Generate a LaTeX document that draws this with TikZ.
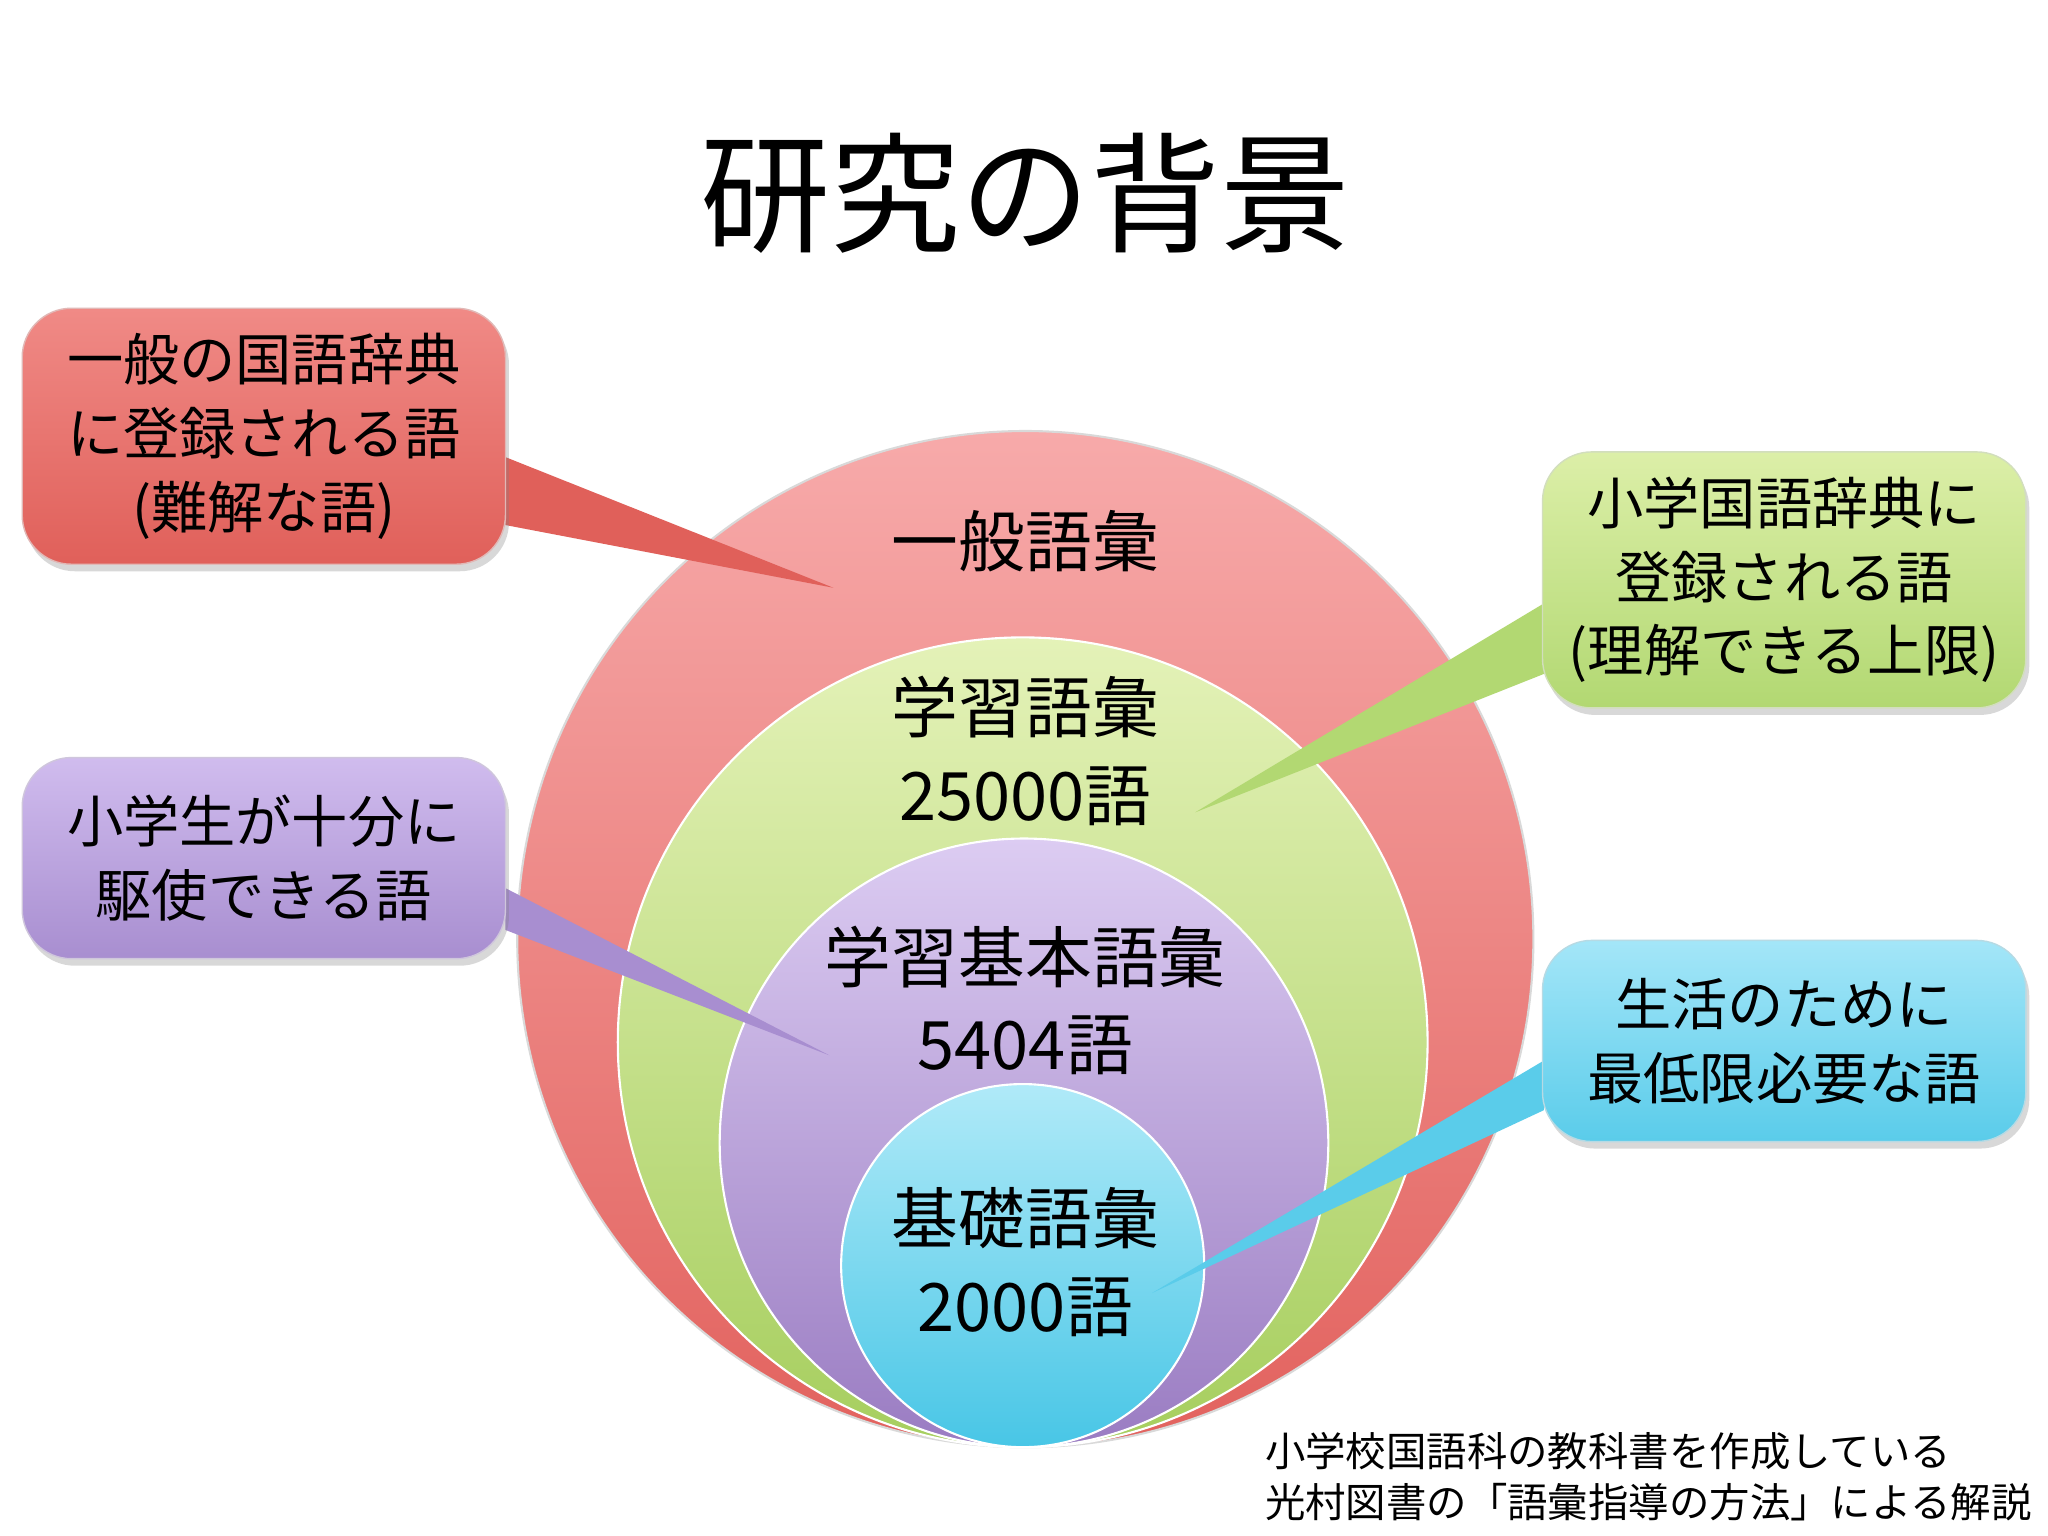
\documentclass[tikz,border=0pt]{standalone}
\usepackage{fontspec}
\setmainfont{Noto Sans CJK JP}
\usetikzlibrary{shadows}
\definecolor{rA}{HTML}{F7AAAA}\definecolor{rB}{HTML}{E2625E}
\definecolor{gA}{HTML}{E4F2B8}\definecolor{gB}{HTML}{A6CE5E}
\definecolor{pA}{HTML}{DCCCF2}\definecolor{pB}{HTML}{9A7CC2}
\definecolor{bA}{HTML}{B0EAF8}\definecolor{bB}{HTML}{48C6E6}
\definecolor{rbA}{HTML}{F08A86}\definecolor{rbB}{HTML}{E0605A}
\definecolor{gbA}{HTML}{DCEFA8}\definecolor{gbB}{HTML}{B2D872}
\definecolor{pbA}{HTML}{D0BCEE}\definecolor{pbB}{HTML}{A88ED0}
\definecolor{bbA}{HTML}{A4E6F8}\definecolor{bbB}{HTML}{5ACCEA}
\tikzset{
 callout/.style={rounded corners=14pt, minimum width=370*0.01306cm, align=center, font=\fontsize{16}{21}\selectfont, drop shadow={shadow xshift=1pt,shadow yshift=-2pt,opacity=0.3}},
 circlab/.style={align=center, font=\fontsize{19}{25}\selectfont},
}
\begin{document}
\begin{tikzpicture}[x=0.01306cm,y=-0.01306cm]
\useasboundingbox[fill=white] (0,0) rectangle (1568,1176);
\node (title) at (785,148) {\fontsize{37}{40}\selectfont 研究の背景};
% circles
\shade[top color=rA,bottom color=rB,draw=white!85!black,line width=0.6pt] (785,719) circle (389);
\shade[top color=gA,bottom color=gB,draw=white,line width=0.6pt] (783,798) circle (310);
\shade[top color=pA,bottom color=pB,draw=white,line width=0.6pt] (784,875) circle (233);
\shade[top color=bA,bottom color=bB,draw=white,line width=0.6pt] (783,969) circle (139);
\node[circlab] (c1) at (785,414) {一般語彙};
\node[circlab] (c2) at (785,575) {学習語彙\\25000語};
\node[circlab] (c3) at (785,766) {学習基本語彙\\5404語};
\node[circlab] (c4) at (785,966) {基礎語彙\\2000語};
% pointer tips
\coordinate (t1) at (638,450);
\coordinate (t2) at (915,622);
\coordinate (t3) at (635,808);
\coordinate (t4) at (882,990);
% red callout
\fill[rbB] (387,350) -- (t1) -- (387,402) -- cycle;
\node[callout, minimum height=196*0.01306cm, top color=rbA, bottom color=rbB, draw=rbB!80!black!40] (b1) at (202,334) {一般の国語辞典\\に登録される語\\(難解な語)};
% green
\fill[gbB] (1182,462) -- (t2) -- (1182,516) -- cycle;
\node[callout, minimum height=196*0.01306cm, top color=gbA, bottom color=gbB, draw=gbB!80!black!40] (b2) at (1366,444) {小学国語辞典に\\登録される語\\(理解できる上限)};
% purple
\fill[pbB] (387,680) -- (t3) -- (387,712) -- cycle;
\node[callout, minimum height=154*0.01306cm, top color=pbA, bottom color=pbB, draw=pbB!80!black!40] (b3) at (202,657) {小学生が十分に\\駆使できる語};
% blue
\fill[bbB] (1182,812) -- (t4) -- (1182,850) -- cycle;
\node[callout, minimum height=154*0.01306cm, top color=bbA, bottom color=bbB, draw=bbB!80!black!40] (b4) at (1366,797) {生活のために\\最低限必要な語};
\node[anchor=north west, align=left, inner sep=0pt, font=\fontsize{11.5}{14.5}\selectfont] (note) at (968,1096) {小学校国語科の教科書を作成している\\光村図書の「語彙指導の方法」による解説};
\end{tikzpicture}
\end{document}
